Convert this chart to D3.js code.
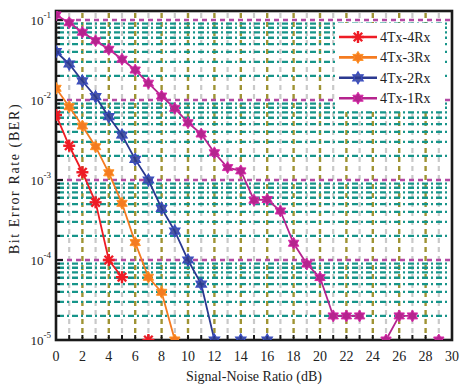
<!DOCTYPE html>
<html><head><meta charset="utf-8">
<script src="https://cdn.jsdelivr.net/npm/d3@7"></script>
<style>body{margin:0;background:#fff}svg{display:block}text{font-family:"Liberation Serif","Times New Roman",Times,serif;fill:#222}</style>
</head><body><svg id="c" width="466" height="386"></svg>
<script>
const snr = d3.range(0, 31);
const seriesNames = ["4Tx-4Rx","4Tx-3Rx","4Tx-2Rx","4Tx-1Rx"];
const ber4Rx = [6.5e-3,2.68e-3,1.25e-3,5.26e-4,1.0e-4,6.1e-5,null,1e-5];
const ber3Rx = [1.4e-2,8.25e-3,4.73e-3,2.61e-3,1.23e-3,5.11e-4,1.65e-4,6.08e-5,3.95e-5,1e-5];
const ber2Rx = [4.02e-2,2.82e-2,1.73e-2,1.1e-2,6.18e-3,3.65e-3,1.81e-3,1.0e-3,4.43e-4,2.3e-4,1.0e-4,5.0e-5,1e-5,null,1e-5,null,1e-5];
const ber1Rx = [0.1155,9.25e-2,7.02e-2,5.51e-2,4.3e-2,3.23e-2,2.37e-2,1.62e-2,1.12e-2,7.87e-3,5.2e-3,3.76e-3,2.19e-3,1.43e-3,1.3e-3,5.6e-4,5.7e-4,4.1e-4,1.62e-4,8.9e-5,6.03e-5,2e-5,2e-5,2e-5,null,1e-5,2e-5,2e-5,null,1e-5];
const xTicks = d3.range(0, 31, 2);
const yDecades = [1e-5,1e-4,1e-3,1e-2,1e-1];
const yTickExp = ["-5","-4","-3","-2","-1"];

const colors = ["#ee1c25","#f47b20","#2b3990","#b5248e"];
const markers = ["asterisk","hexfill","hexstar","hexfill"];
const data = [ber4Rx, ber3Rx, ber2Rx, ber1Rx];

const svg = d3.select("#c");
const L=56, R=452, T=11, B=340;
const x = d3.scaleLinear().domain([0,30]).range([L,R]);
const y = d3.scaleLog().domain([1e-5, Math.pow(10,-0.8875)]).range([B,T]);

svg.append("defs").append("clipPath").attr("id","clip")
  .append("rect").attr("x",L).attr("y",T).attr("width",R-L).attr("height",B-T);

// grid
const g = svg.append("g");
const minorY = [];
yDecades.slice(0,4).forEach(d=>{ for(let k=2;k<10;k++) minorY.push(d*k); });
g.selectAll(".vodd").data(d3.range(1,30,2)).join("line")
  .attr("x1",d=>x(d)).attr("x2",d=>x(d)).attr("y1",T+2).attr("y2",B-2)
  .attr("stroke","#c9c9c9").attr("stroke-width",2.2).attr("stroke-dasharray","5,4");
g.selectAll(".veven").data(d3.range(2,30,2)).join("line")
  .attr("x1",d=>x(d)).attr("x2",d=>x(d)).attr("y1",T+2).attr("y2",B-2)
  .attr("stroke","#9f9334").attr("stroke-width",2.4).attr("stroke-dasharray","5,4");
g.selectAll(".hmin").data(minorY).join("line")
  .attr("x1",L+2).attr("x2",R-2).attr("y1",d=>y(d)).attr("y2",d=>y(d))
  .attr("stroke","#17958a").attr("stroke-width",2.4).attr("stroke-dasharray","6,3,2,3");
g.selectAll(".hmaj").data(yDecades.slice(1)).join("line")
  .attr("x1",L+2).attr("x2",R-2).attr("y1",d=>y(d)).attr("y2",d=>y(d))
  .attr("stroke","#b24aa3").attr("stroke-width",2.4).attr("stroke-dasharray","5,4");

// legend background
const lg = svg.append("g");
lg.append("rect").attr("x",335).attr("y",23).attr("width",108).attr("height",88).attr("fill","#fff");

// axes box
svg.append("rect").attr("x",L).attr("y",T).attr("width",R-L).attr("height",B-T)
  .attr("fill","none").attr("stroke","#1a1a1a").attr("stroke-width",2.6);

// x ticks
svg.append("g").selectAll("line").data(d3.range(0,31)).join("line")
  .attr("x1",d=>x(d)).attr("x2",d=>x(d)).attr("y1",B).attr("y2",B-5)
  .attr("stroke","#1a1a1a").attr("stroke-width",2);
svg.append("g").selectAll("text").data(xTicks).join("text")
  .attr("x",d=>x(d)).attr("y",B+21).attr("text-anchor","middle").attr("font-size",14).text(d=>d);

// y ticks
const allMinor = [];
yDecades.slice(0,4).forEach(d=>{ for(let k=2;k<10;k++) allMinor.push(d*k); });
allMinor.push(0.12);
svg.append("g").selectAll("line").data(allMinor.filter(v=>v<=y.domain()[1])).join("line")
  .attr("x1",L).attr("x2",L+4).attr("y1",d=>y(d)).attr("y2",d=>y(d))
  .attr("stroke","#1a1a1a").attr("stroke-width",2);
svg.append("g").selectAll("line").data(yDecades).join("line")
  .attr("x1",L).attr("x2",L+7).attr("y1",d=>y(d)).attr("y2",d=>y(d))
  .attr("stroke","#1a1a1a").attr("stroke-width",2);
const yl = svg.append("g").selectAll("text").data(yDecades).join("text")
  .attr("x",L-5).attr("y",d=>y(d)+5).attr("text-anchor","end").attr("font-size",13);
yl.append("tspan").text("10");
yl.append("tspan").attr("font-size",9).attr("dy",-7).text((d,i)=>yTickExp[i]);

// axis labels
svg.append("text").attr("x",(L+R)/2).attr("y",381).attr("text-anchor","middle").attr("font-size",14).text("Signal-Noise Ratio (dB)");
svg.append("text").attr("transform",`translate(19,${(T+B)/2+3}) rotate(-90)`).attr("text-anchor","middle")
  .attr("font-size",14).attr("letter-spacing",1.6).text("Bit Error Rate (BER)");

// marker drawing
function hexPath(r){
  let p="";
  for(let i=0;i<12;i++){
    const a = -Math.PI/2 + i*Math.PI/6;
    const rr = i%2===0 ? r : r*0.58;
    p += (i?"L":"M")+(rr*Math.cos(a)).toFixed(2)+","+(rr*Math.sin(a)).toFixed(2);
  }
  return p+"Z";
}
function drawMarker(sel, type, color, r){
  if(type==="asterisk"){
    for(let i=0;i<4;i++){
      const a=i*Math.PI/4;
      sel.append("line").attr("x1",-r*Math.cos(a)).attr("y1",-r*Math.sin(a))
        .attr("x2",r*Math.cos(a)).attr("y2",r*Math.sin(a))
        .attr("stroke",color).attr("stroke-width",2.4);
    }
  } else if(type==="hexstar"){
    sel.append("path").attr("d",hexPath(r)).attr("fill",color).attr("fill-opacity",0.85)
      .attr("stroke",d3.color(color).brighter(0.8)).attr("stroke-width",1.2);
  } else {
    sel.append("path").attr("d",hexPath(r)).attr("fill",color)
      .attr("stroke",d3.color(color).brighter(0.5)).attr("stroke-width",1);
  }
}

const plot = svg.append("g").attr("clip-path","url(#clip)");
const line = d3.line().defined(d=>d.v!=null).x(d=>x(d.x)).y(d=>y(d.v));
data.forEach((arr,si)=>{
  const pts = arr.map((v,i)=>({x:snr[i], v}));
  plot.append("path").datum(pts).attr("d",line).attr("fill","none")
    .attr("stroke",colors[si]).attr("stroke-width",1.8);
  pts.filter(d=>d.v!=null).forEach(d=>{
    const m = plot.append("g").attr("transform",`translate(${x(d.x)},${y(d.v)})`);
    drawMarker(m, markers[si], colors[si], 6);
  });
});

// legend entries
seriesNames.forEach((n,i)=>{
  const yy = 37 + i*20.4;
  lg.append("line").attr("x1",339).attr("x2",377).attr("y1",yy).attr("y2",yy)
    .attr("stroke",colors[i]).attr("stroke-width",2.6);
  const m = lg.append("g").attr("transform",`translate(358,${yy})`);
  drawMarker(m, markers[i], colors[i], 6);
  lg.append("text").attr("x",380).attr("y",yy+5).attr("font-size",14).text(n);
});
</script></body></html>
